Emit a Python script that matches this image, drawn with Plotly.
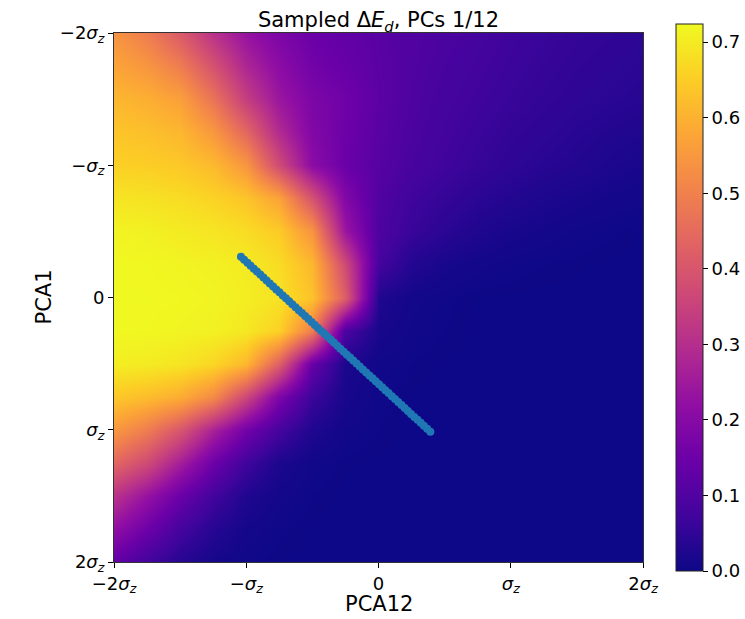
import plotly.graph_objects as go

# Grid of the sampled field (in units of sigma_z)
pca12_grid = [-2.0, -1.75, -1.5, -1.25, -1.0, -0.75, -0.5, -0.25, 0.0,
              0.25, 0.5, 0.75, 1.0, 1.25, 1.5, 1.75, 2.0]
pca1_grid = [-2.0, -1.75, -1.5, -1.25, -1.0, -0.75, -0.5, -0.25, 0.0,
             0.25, 0.5, 0.75, 1.0, 1.25, 1.5, 1.75, 2.0]

# Delta E_d values, one row per PCA1 level, one column per PCA12 level
delta_e = [
    [0.54, 0.49, 0.41, 0.31, 0.23, 0.18, 0.145, 0.13, 0.115, 0.100, 0.090, 0.080, 0.070, 0.062, 0.055, 0.050, 0.045],
    [0.575, 0.545, 0.49, 0.39, 0.28, 0.21, 0.160, 0.14, 0.117, 0.098, 0.085, 0.075, 0.065, 0.057, 0.050, 0.045, 0.040],
    [0.61, 0.595, 0.565, 0.47, 0.34, 0.24, 0.180, 0.155, 0.120, 0.095, 0.080, 0.070, 0.060, 0.052, 0.045, 0.040, 0.035],
    [0.635, 0.625, 0.61, 0.55, 0.44, 0.29, 0.190, 0.150, 0.115, 0.090, 0.075, 0.063, 0.052, 0.045, 0.037, 0.030, 0.025],
    [0.655, 0.65, 0.64, 0.615, 0.545, 0.37, 0.210, 0.145, 0.110, 0.085, 0.070, 0.057, 0.045, 0.037, 0.030, 0.022, 0.015],
    [0.69, 0.685, 0.675, 0.66, 0.635, 0.57, 0.390, 0.190, 0.100, 0.070, 0.055, 0.040, 0.030, 0.022, 0.015, 0.010, 0.008],
    [0.715, 0.71, 0.70, 0.69, 0.675, 0.645, 0.540, 0.240, 0.095, 0.060, 0.040, 0.025, 0.015, 0.010, 0.005, 0.003, 0.000],
    [0.722, 0.72, 0.715, 0.71, 0.70, 0.675, 0.610, 0.370, 0.080, 0.030, 0.015, 0.008, 0.004, 0.002, 0.001, 0.000, 0.000],
    [0.722, 0.722, 0.72, 0.715, 0.705, 0.685, 0.630, 0.420, 0.025, 0.008, 0.003, 0.000, 0.000, 0.000, 0.000, 0.000, 0.000],
    [0.722, 0.72, 0.715, 0.71, 0.695, 0.655, 0.490, 0.090, 0.015, 0.005, 0.002, 0.000, 0.000, 0.000, 0.000, 0.000, 0.000],
    [0.705, 0.70, 0.69, 0.665, 0.61, 0.42, 0.140, 0.020, 0.005, 0.002, 0.000, 0.000, 0.000, 0.000, 0.000, 0.000, 0.000],
    [0.64, 0.62, 0.59, 0.52, 0.36, 0.18, 0.065, 0.015, 0.003, 0.000, 0.000, 0.000, 0.000, 0.000, 0.000, 0.000, 0.000],
    [0.55, 0.49, 0.40, 0.27, 0.16, 0.08, 0.025, 0.006, 0.002, 0.000, 0.000, 0.000, 0.000, 0.000, 0.000, 0.000, 0.000],
    [0.44, 0.37, 0.26, 0.15, 0.07, 0.02, 0.005, 0.001, 0.000, 0.000, 0.000, 0.000, 0.000, 0.000, 0.000, 0.000, 0.000],
    [0.31, 0.23, 0.145, 0.075, 0.025, 0.008, 0.002, 0.000, 0.000, 0.000, 0.000, 0.000, 0.000, 0.000, 0.000, 0.000, 0.000],
    [0.22, 0.15, 0.08, 0.035, 0.01, 0.003, 0.000, 0.000, 0.000, 0.000, 0.000, 0.000, 0.000, 0.000, 0.000, 0.000, 0.000],
    [0.13, 0.075, 0.035, 0.012, 0.003, 0.000, 0.000, 0.000, 0.000, 0.000, 0.000, 0.000, 0.000, 0.000, 0.000, 0.000, 0.000],
]

# Sampled path through the latent plane
path_pca12 = [
    -1.040, -1.016, -0.991, -0.967, -0.943, -0.919, -0.894, -0.870, -0.846, -0.822,
    -0.797, -0.773, -0.749, -0.724, -0.700, -0.676, -0.652, -0.627, -0.603, -0.579,
    -0.555, -0.530, -0.506, -0.482, -0.458, -0.433, -0.409, -0.385, -0.360, -0.336,
    -0.312, -0.288, -0.263, -0.239, -0.215, -0.191, -0.166, -0.142, -0.118, -0.093,
    -0.069, -0.045, -0.021, 0.004, 0.028, 0.052, 0.076, 0.101, 0.125, 0.149,
    0.174, 0.198, 0.222, 0.246, 0.271, 0.295, 0.319, 0.343, 0.368, 0.392,
]
path_pca1 = [
    -0.308, -0.286, -0.263, -0.241, -0.218, -0.196, -0.173, -0.151, -0.129, -0.106,
    -0.084, -0.061, -0.039, -0.016, 0.006, 0.028, 0.051, 0.073, 0.096, 0.118,
    0.140, 0.163, 0.185, 0.208, 0.230, 0.253, 0.275, 0.297, 0.320, 0.342,
    0.365, 0.387, 0.410, 0.432, 0.454, 0.477, 0.499, 0.522, 0.544, 0.567,
    0.589, 0.611, 0.634, 0.656, 0.679, 0.701, 0.723, 0.746, 0.768, 0.791,
    0.813, 0.836, 0.858, 0.880, 0.903, 0.925, 0.948, 0.970, 0.992, 1.015,
]

sigma_ticks = [-2, -1, 0, 1, 2]
sigma_labels = ["−2<i>σ</i><sub><i>z</i></sub>", "−<i>σ</i><sub><i>z</i></sub>", "0",
                "<i>σ</i><sub><i>z</i></sub>", "2<i>σ</i><sub><i>z</i></sub>"]
cbar_ticks = [0.0, 0.1, 0.2, 0.3, 0.4, 0.5, 0.6, 0.7]

# plasma colour map, sampled every tenth
plasma = [
    [0.0, "#0d0887"], [0.1, "#41049d"], [0.2, "#6a00a8"], [0.3, "#8f0da4"],
    [0.4, "#b12a90"], [0.5, "#cc4778"], [0.6, "#e16462"], [0.7, "#f2844b"],
    [0.8, "#fca636"], [0.9, "#fcce25"], [1.0, "#f0f921"],
]

FONT = "DejaVu Sans"

fig = go.Figure()
fig.add_trace(go.Heatmap(
    x=pca12_grid, y=pca1_grid, z=delta_e,
    colorscale=plasma, zmin=0.0, zmax=0.724, zsmooth="best",
    colorbar=dict(
        x=(676 - 114) / 529, xanchor="left", xref="paper", xpad=0,
        y=1 - (297.5 - 33) / 529, yanchor="middle", yref="paper", ypad=0,
        lenmode="pixels", len=547, thickness=27,
        outlinewidth=1, outlinecolor="#222",
        tickvals=cbar_ticks, tickformat=".1f",
        ticks="outside", ticklen=5, tickcolor="black",
        tickfont=dict(family=FONT, size=18, color="black"),
    ),
    hoverinfo="skip",
))
fig.add_trace(go.Scatter(
    x=path_pca12, y=path_pca1, mode="markers",
    marker=dict(color="#1f77b4", size=8, line=dict(width=0)),
    showlegend=False,
))

axis_common = dict(
    tickvals=sigma_ticks, ticktext=sigma_labels,
    ticks="outside", ticklen=5, tickcolor="black",
    tickfont=dict(family=FONT, size=18, color="black"),
    showline=True, mirror=True, linecolor="#333", linewidth=1,
    showgrid=False, zeroline=False,
)

fig.update_layout(
    width=745, height=619,
    margin=dict(l=114, r=102, t=33, b=57, autoexpand=False),
    paper_bgcolor="white", plot_bgcolor="white",
    xaxis=dict(range=[-2, 2], **axis_common),
    yaxis=dict(range=[2, -2], **axis_common),
    title=dict(text="Sampled Δ<i>E</i><sub><i>d</i></sub>, PCs 1/12",
               x=0.5, xref="paper", xanchor="center",
               y=1 - 20 / 619, yref="container", yanchor="middle",
               font=dict(family=FONT, size=21, color="black")),
    annotations=[
        dict(text="PCA12", xref="paper", yref="paper", x=0.5, y=-(604 - 562) / 529,
             xanchor="center", yanchor="middle", showarrow=False,
             font=dict(family=FONT, size=21, color="black")),
        dict(text="PCA1", xref="paper", yref="paper", x=-(114 - 43) / 529, y=0.5,
             xanchor="center", yanchor="middle", showarrow=False, textangle=-90,
             font=dict(family=FONT, size=21, color="black")),
    ],
)

fig.write_html("out.html")
